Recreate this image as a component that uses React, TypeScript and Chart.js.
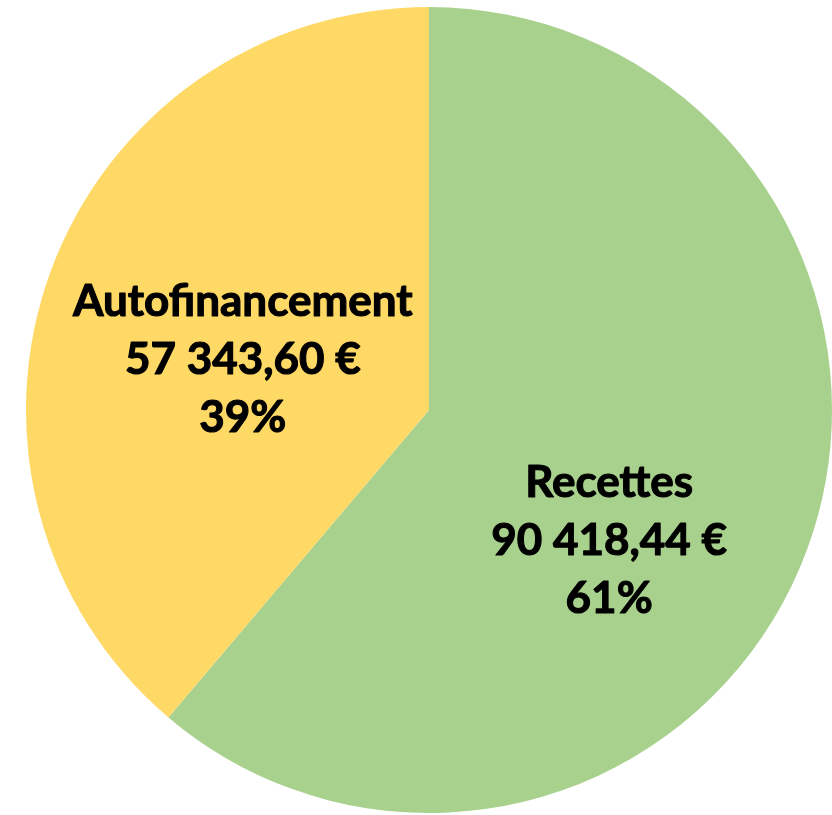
import React, { useEffect, useRef } from "react";
import { Chart, registerables } from "chart.js";

Chart.register(...registerables);

const categories = ["Recettes", "Autofinancement"];
const values = [90418.44, 57343.6];
const valueLabels = ["90 418,44 €", "57 343,60 €"];
const percentLabels = ["61%", "39%"];
const colors = ["#A9D18E", "#FFD966"];
// label centre offsets as fraction of the radius (dx, dy)
const labelOffsets = [
  [0.447, 0.325],
  [-0.462, -0.124],
];

const labelPlugin = {
  id: "sliceLabels",
  afterDatasetsDraw(chart: any) {
    const ctx = chart.ctx;
    const meta = chart.getDatasetMeta(0);
    ctx.save();
    ctx.fillStyle = "#000000";
    ctx.strokeStyle = "#000000";
    ctx.lineWidth = 1.1;
    ctx.lineJoin = "round";
    ctx.textAlign = "center";
    ctx.textBaseline = "middle";
    ctx.font = "bold 44px Lato, 'Open Sans', sans-serif";
    meta.data.forEach((arc: any, i: number) => {
      const r = arc.outerRadius;
      const cx = arc.x + labelOffsets[i][0] * r;
      const cy = arc.y + labelOffsets[i][1] * r;
      const lines = [categories[i], valueLabels[i], percentLabels[i]];
      const lh = 58;
      lines.forEach((t, k) => {
        ctx.fillText(t, cx, cy + (k - 1) * lh);
        ctx.strokeText(t, cx, cy + (k - 1) * lh);
      });
    });
    ctx.restore();
  },
};

export default function App() {
  const ref = useRef<HTMLCanvasElement>(null);
  useEffect(() => {
    if (!ref.current) return;
    const chart = new Chart(ref.current, {
      type: "pie",
      data: {
        labels: categories,
        datasets: [
          {
            data: values,
            backgroundColor: colors,
            borderWidth: 0,
          },
        ],
      },
      options: {
        responsive: false,
        animation: false,
        layout: { padding: { left: 26, right: 0, top: 7, bottom: 2 } },
        plugins: {
          legend: { display: false },
          tooltip: { enabled: false },
        },
      },
      plugins: [labelPlugin],
    });
    return () => chart.destroy();
  }, []);
  return (
    <div style={{ position: "absolute", left: 0, top: 0, width: 832, height: 815, background: "#fff" }}>
      <canvas ref={ref} width={832} height={815} />
    </div>
  );
}
